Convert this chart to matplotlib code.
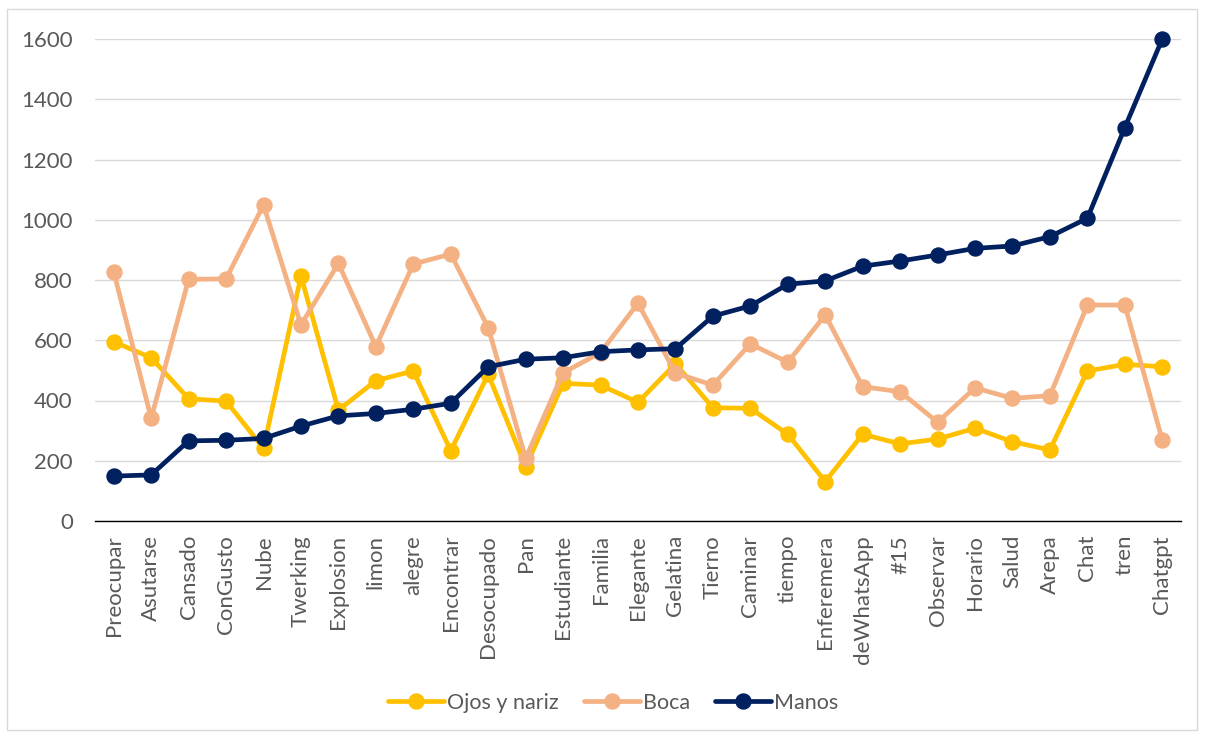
import matplotlib
matplotlib.use("Agg")
import matplotlib.pyplot as plt
from matplotlib.patches import Rectangle

categories = ["Preocupar", "Asutarse", "Cansado", "ConGusto", "Nube", "Twerking",
              "Explosion", "limon", "alegre", "Encontrar", "Desocupado", "Pan",
              "Estudiante", "Familia", "Elegante", "Gelatina", "Tierno", "Caminar",
              "tiempo", "Enferemera", "deWhatsApp", "#15", "Observar", "Horario",
              "Salud", "Arepa", "Chat", "tren", "Chatgpt"]

ojos_nariz = [595, 542, 406, 398, 241, 813, 368, 466, 498, 233, 487, 180,
              457, 451, 394, 522, 376, 374, 288, 131, 288, 256, 272, 308,
              263, 236, 498, 520, 512]
boca = [827, 341, 802, 804, 1049, 651, 855, 579, 853, 886, 642, 208,
        492, 559, 723, 491, 451, 588, 527, 684, 446, 429, 328, 442,
        407, 416, 717, 717, 269]
manos = [149, 153, 266, 268, 274, 315, 349, 357, 371, 391, 512, 537,
         542, 562, 568, 572, 680, 714, 786, 797, 846, 863, 883, 905,
         913, 944, 1005, 1306, 1600]

series = [("Ojos y nariz", ojos_nariz, "#FFC000"),
          ("Boca", boca, "#F4B183"),
          ("Manos", manos, "#002060")]

W, H = 1205, 737
fig = plt.figure(figsize=(W / 100, H / 100), dpi=100)
plt.rcParams["font.family"] = ["Lato", "DejaVu Sans"]

# outer chart border
fig.patches.append(Rectangle((7 / W, 1 - 730 / H), 1190 / W, 721 / H,
                             transform=fig.transFigure, fill=False,
                             edgecolor="#D9D9D9", linewidth=1.0))

left, right, top, bottom = 95, 1181, 39, 521
ax = fig.add_axes([left / W, 1 - bottom / H, (right - left) / W, (bottom - top) / H])

x = list(range(len(categories)))
for name, vals, color in series:
    ax.plot(x, vals, color=color, linewidth=3.4, marker="o", markersize=10.8,
            label=name, solid_capstyle="round", solid_joinstyle="round",
            clip_on=False)

ax.set_xlim(-0.5, len(categories) - 0.5)
ax.set_ylim(0, 1600)
ax.set_yticks(range(0, 1601, 200))
ax.grid(axis="y", color="#D9D9D9", linewidth=1.0)
ax.set_axisbelow(True)
for s in ["top", "right", "left"]:
    ax.spines[s].set_visible(False)
ax.spines["bottom"].set_color("#000000")
ax.spines["bottom"].set_linewidth(1.0)

ax.set_xticks(x)
ax.set_xticklabels(categories, rotation=90, fontsize=16, color="#595959")
ax.tick_params(axis="x", length=0, pad=10)
ax.tick_params(axis="y", length=0, pad=16, labelsize=16, labelcolor="#595959")

leg = fig.legend(loc="center", bbox_to_anchor=(613 / W, 1 - 703 / H), ncol=3,
                 frameon=False, fontsize=15.5, handlelength=2.6,
                 columnspacing=1.15, handletextpad=0.15)
for t in leg.get_texts():
    t.set_color("#595959")

fig.savefig("out.png", dpi=100)
